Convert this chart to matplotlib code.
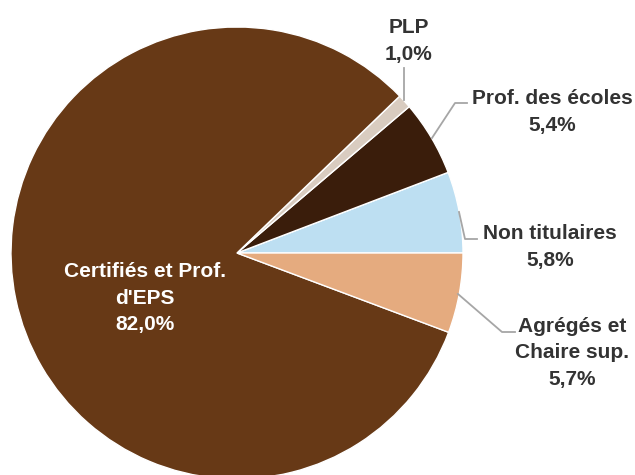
import matplotlib

matplotlib.use("Agg")
import matplotlib.pyplot as plt

# Slices in counter-clockwise order starting at 3 o'clock
labels = ["Non titulaires", "Prof. des écoles", "PLP", "Certifiés et Prof.\nd'EPS", "Agrégés et\nChaire sup."]
shares = [5.8, 5.4, 1.0, 82.0, 5.7]
colors = ["#bddff2", "#3a1d0b", "#d9ccc0", "#673916", "#e5ab7f"]

W, H = 635, 475
cx, cy, r = 237, H - 253, 226

plt.rcParams["font.family"] = ["Liberation Sans", "DejaVu Sans"]

fig = plt.figure(figsize=(W / 100, H / 100), dpi=100)
ax = fig.add_axes([0, 0, 1, 1])

wedges, _ = ax.pie(
    shares,
    colors=colors,
    startangle=0,
    counterclock=True,
    center=(cx, cy),
    radius=r,
    wedgeprops=dict(edgecolor="white", linewidth=1.0),
    frame=True,
)
ax.set_xlim(0, W)
ax.set_ylim(0, H)
ax.set_aspect("equal")
ax.axis("off")

txt = dict(fontsize=15, fontweight="bold", color="#333333", ha="center", va="center",
           linespacing=1.5)
line = dict(color="#a6a6a6", linewidth=1.3)


def y(p):
    return H - p


# PLP
ax.plot([404, 404], [y(100), y(68)], **line)
ax.text(409, y(41), "PLP\n1,0%", **txt)
# Prof. des écoles
ax.plot([432, 455, 467], [y(138), y(103), y(103)], **line)
ax.text(552, y(112), "Prof. des écoles\n5,4%", **txt)
# Non titulaires
ax.plot([459, 465, 477], [y(212), y(239), y(239)], **line)
ax.text(550, y(247), "Non titulaires\n5,8%", **txt)
# Agrégés
ax.plot([458, 502, 515], [y(294), y(332), y(332)], **line)
ax.text(572, y(353), "Agrégés et\nChaire sup.\n5,7%", **txt)
# Certifiés
ax.text(145, y(298), "Certifiés et Prof.\nd'EPS\n82,0%", **dict(txt, color="white"))

fig.savefig("out.png", dpi=100)
